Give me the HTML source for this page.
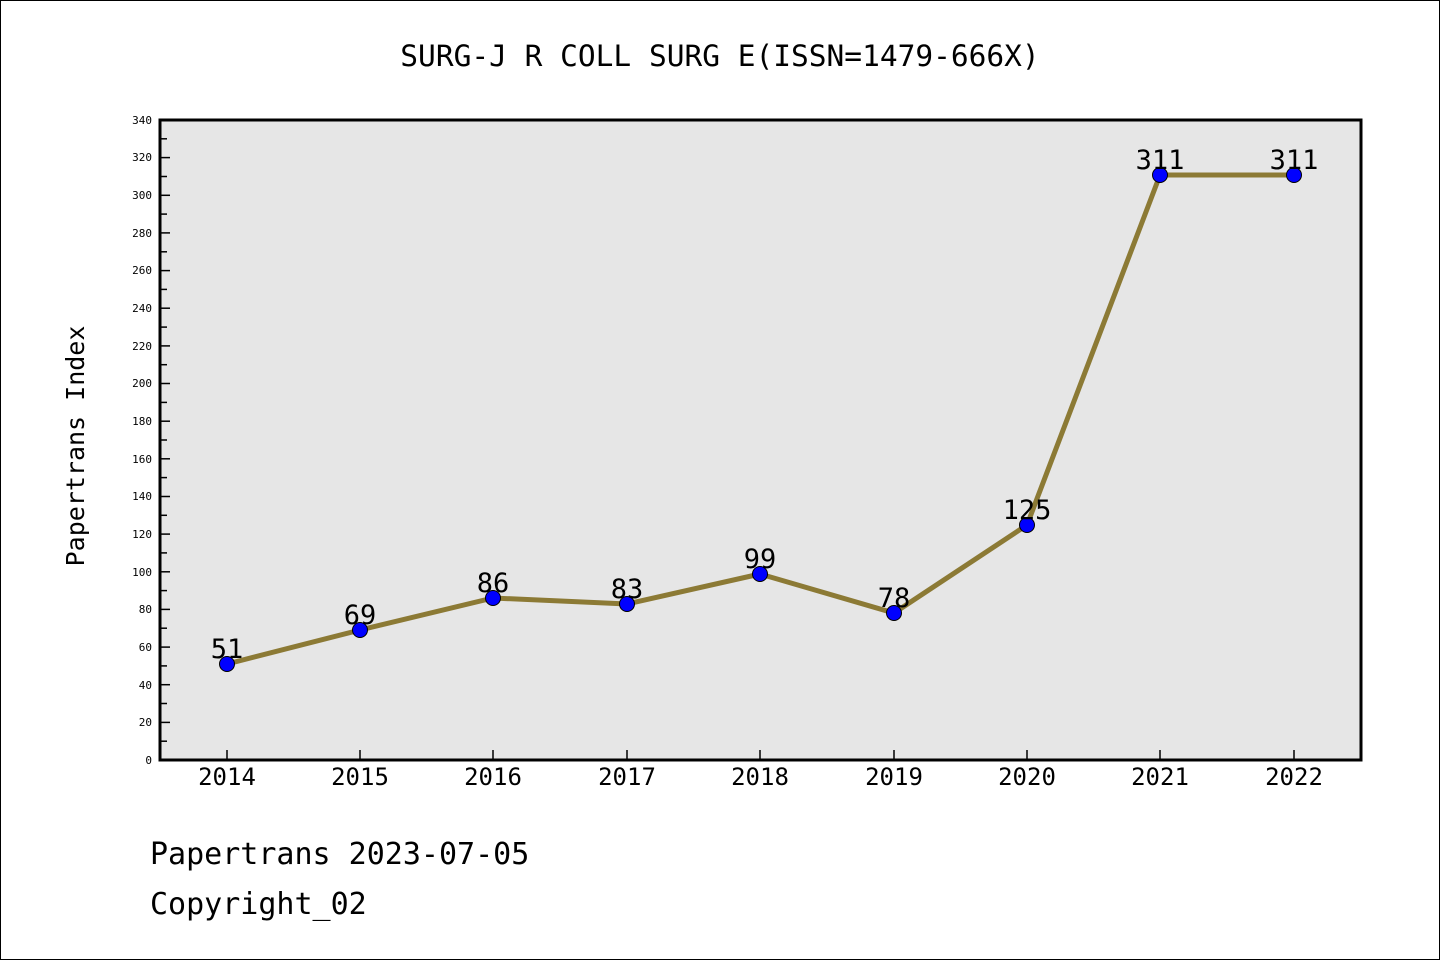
<!DOCTYPE html>
<html><head><style>
body{margin:0;background:#fff}
svg{display:block}
text{font-family:"DejaVu Sans Mono","Liberation Mono",monospace;fill:#000}
</style></head><body>
<svg width="1440" height="960" xmlns="http://www.w3.org/2000/svg">
<rect x="0.5" y="0.5" width="1439" height="959" fill="#fff" stroke="#000"/>
<text x="720" y="66" font-size="29.5" text-anchor="middle">SURG-J R COLL SURG E(ISSN=1479-666X)</text>
<rect x="160" y="120" width="1201" height="640" fill="#e6e6e6"/>
<g stroke="#000" stroke-width="1.5">
<line x1="160" y1="741.2" x2="167" y2="741.2"/><line x1="160" y1="722.4" x2="170" y2="722.4"/>
<line x1="160" y1="703.5" x2="167" y2="703.5"/><line x1="160" y1="684.7" x2="170" y2="684.7"/>
<line x1="160" y1="665.9" x2="167" y2="665.9"/><line x1="160" y1="647.1" x2="170" y2="647.1"/>
<line x1="160" y1="628.2" x2="167" y2="628.2"/><line x1="160" y1="609.4" x2="170" y2="609.4"/>
<line x1="160" y1="590.6" x2="167" y2="590.6"/><line x1="160" y1="571.8" x2="170" y2="571.8"/>
<line x1="160" y1="552.9" x2="167" y2="552.9"/><line x1="160" y1="534.1" x2="170" y2="534.1"/>
<line x1="160" y1="515.3" x2="167" y2="515.3"/><line x1="160" y1="496.5" x2="170" y2="496.5"/>
<line x1="160" y1="477.6" x2="167" y2="477.6"/><line x1="160" y1="458.8" x2="170" y2="458.8"/>
<line x1="160" y1="440" x2="167" y2="440"/><line x1="160" y1="421.2" x2="170" y2="421.2"/>
<line x1="160" y1="402.4" x2="167" y2="402.4"/><line x1="160" y1="383.5" x2="170" y2="383.5"/>
<line x1="160" y1="364.7" x2="167" y2="364.7"/><line x1="160" y1="345.9" x2="170" y2="345.9"/>
<line x1="160" y1="327.1" x2="167" y2="327.1"/><line x1="160" y1="308.2" x2="170" y2="308.2"/>
<line x1="160" y1="289.4" x2="167" y2="289.4"/><line x1="160" y1="270.6" x2="170" y2="270.6"/>
<line x1="160" y1="251.8" x2="167" y2="251.8"/><line x1="160" y1="232.9" x2="170" y2="232.9"/>
<line x1="160" y1="214.1" x2="167" y2="214.1"/><line x1="160" y1="195.3" x2="170" y2="195.3"/>
<line x1="160" y1="176.5" x2="167" y2="176.5"/><line x1="160" y1="157.6" x2="170" y2="157.6"/>
<line x1="160" y1="138.8" x2="167" y2="138.8"/>
<line x1="227" y1="760" x2="227" y2="750"/><line x1="360" y1="760" x2="360" y2="750"/>
<line x1="493" y1="760" x2="493" y2="750"/><line x1="627" y1="760" x2="627" y2="750"/>
<line x1="760" y1="760" x2="760" y2="750"/><line x1="894" y1="760" x2="894" y2="750"/>
<line x1="1027" y1="760" x2="1027" y2="750"/><line x1="1160" y1="760" x2="1160" y2="750"/>
<line x1="1294" y1="760" x2="1294" y2="750"/>
</g>
<rect x="160" y="120" width="1201" height="640" fill="none" stroke="#000" stroke-width="3"/>
<g font-size="11" text-anchor="end">
<text x="152" y="764">0</text><text x="152" y="726">20</text><text x="152" y="689">40</text>
<text x="152" y="651">60</text><text x="152" y="613">80</text><text x="152" y="576">100</text>
<text x="152" y="538">120</text><text x="152" y="500">140</text><text x="152" y="463">160</text>
<text x="152" y="425">180</text><text x="152" y="387">200</text><text x="152" y="350">220</text>
<text x="152" y="312">240</text><text x="152" y="274">260</text><text x="152" y="237">280</text>
<text x="152" y="199">300</text><text x="152" y="161">320</text><text x="152" y="124">340</text>
</g>
<g font-size="24" text-anchor="middle">
<text x="227" y="785">2014</text><text x="360" y="785">2015</text><text x="493" y="785">2016</text>
<text x="627" y="785">2017</text><text x="760" y="785">2018</text><text x="894" y="785">2019</text>
<text x="1027" y="785">2020</text><text x="1160" y="785">2021</text><text x="1294" y="785">2022</text>
</g>
<text transform="translate(84,446) rotate(-90)" font-size="25" text-anchor="middle">Papertrans Index</text>
<polyline fill="none" stroke="#8c7a35" stroke-width="5" points="227,664 360,630 493,598 627,604 760,574 894,613 1027,525 1160,175 1294,175"/>
<g fill="#0000ff" stroke="#000" stroke-width="1">
<circle cx="227" cy="664" r="7.5"/><circle cx="360" cy="630" r="7.5"/><circle cx="493" cy="598" r="7.5"/>
<circle cx="627" cy="604" r="7.5"/><circle cx="760" cy="574" r="7.5"/><circle cx="894" cy="613" r="7.5"/>
<circle cx="1027" cy="525" r="7.5"/><circle cx="1160" cy="175" r="7.5"/><circle cx="1294" cy="175" r="7.5"/>
</g>
<g font-size="27" text-anchor="middle">
<text x="227" y="658">51</text><text x="360" y="624">69</text><text x="493" y="592">86</text>
<text x="627" y="598">83</text><text x="760" y="568">99</text><text x="894" y="607">78</text>
<text x="1027" y="519">125</text><text x="1160" y="169">311</text><text x="1294" y="169">311</text>
</g>
<text x="150" y="864" font-size="30">Papertrans 2023-07-05</text>
<text x="150" y="914" font-size="30">Copyright_02</text>
</svg>
</body></html>
